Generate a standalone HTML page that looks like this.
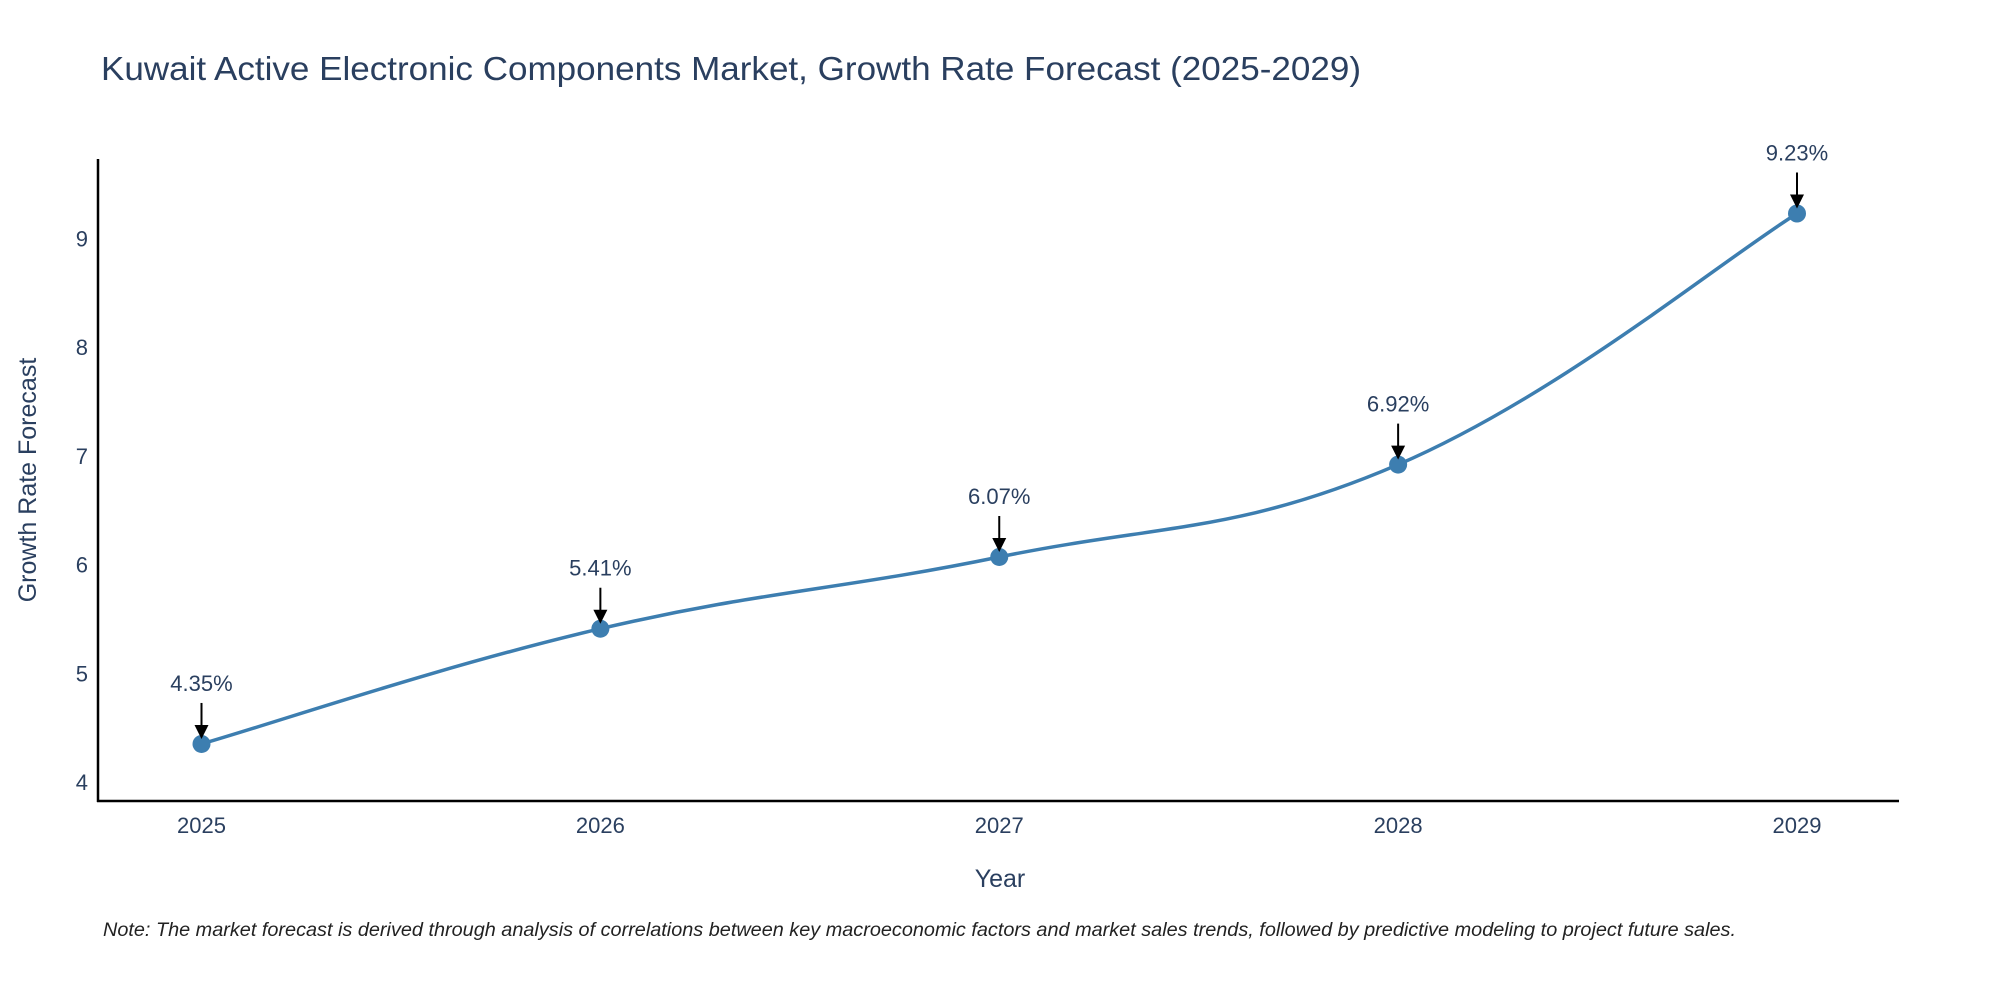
<!DOCTYPE html>
<html><head><meta charset="utf-8"><style>
html,body{margin:0;padding:0;background:#fff;}
svg{display:block;font-family:"Liberation Sans","DejaVu Sans",sans-serif;}
</style></head><body>
<svg id="chart" width="2000" height="1000" viewBox="0 0 2000 1000">
<text x="101" y="80" font-size="33" fill="#2a3f5f" textLength="1260" lengthAdjust="spacingAndGlyphs">Kuwait Active Electronic Components Market, Growth Rate Forecast (2025-2029)</text>
<g id="axes"></g>
<g id="series"></g>
<g id="annos"></g>
<text x="0" y="0" transform="translate(36,480) rotate(-90)" text-anchor="middle" font-size="25" fill="#2a3f5f">Growth Rate Forecast</text>
<text x="1000" y="887" text-anchor="middle" font-size="25" fill="#2a3f5f">Year</text>
<text x="103" y="936" font-size="19" font-style="italic" fill="#222" textLength="1633" lengthAdjust="spacingAndGlyphs">Note: The market forecast is derived through analysis of correlations between key macroeconomic factors and market sales trends, followed by predictive modeling to project future sales.</text>
</svg>
<script>
const categories = ["2025","2026","2027","2028","2029"];
const values = [4.35, 5.41, 6.07, 6.92, 9.23];
const labels = ["4.35%","5.41%","6.07%","6.92%","9.23%"];
const yTicks = [4,5,6,7,8,9];

const NS="http://www.w3.org/2000/svg";
function mk(tag,attrs,parent){const e=document.createElementNS(NS,tag);for(const k in attrs)e.setAttribute(k,attrs[k]);parent.appendChild(e);return e;}
const x0=201.5, x1=1797;
const xScale=i=>x0+(x1-x0)*i/(categories.length-1);
const yScale=v=>782-(v-4)*108.7;
const axes=document.getElementById('axes'), series=document.getElementById('series'), annos=document.getElementById('annos');

const yl=mk('line',{x1:98,y1:159,x2:98,y2:802,stroke:'#000','stroke-width':2.5},axes);


const xl=mk('line',{x1:97,y1:801,x2:1899,y2:801,stroke:'#000','stroke-width':2.5},axes);



yTicks.forEach(t=>{
  const tx=mk('text',{x:88,y:yScale(t)+8,'text-anchor':'end','font-size':22,fill:'#2a3f5f'},axes);
  tx.textContent=t;
  
  
});
categories.forEach((c,i)=>{
  const tx=mk('text',{x:xScale(i),y:833,'text-anchor':'middle','font-size':22,fill:'#2a3f5f'},axes);
  tx.textContent=c;
  
  
});

const pts=values.map((v,i)=>[xScale(i),yScale(v)]);
let d=`M${pts[0][0]},${pts[0][1]}`;
const t=0.2;
for(let i=0;i<pts.length-1;i++){
  const p0=pts[Math.max(0,i-1)],p1=pts[i],p2=pts[i+1],p3=pts[Math.min(pts.length-1,i+2)];
  const c1=[p1[0]+(p2[0]-p0[0])*t,p1[1]+(p2[1]-p0[1])*t];
  const c2=[p2[0]-(p3[0]-p1[0])*t,p2[1]-(p3[1]-p1[1])*t];
  d+=` C${c1[0]},${c1[1]} ${c2[0]},${c2[1]} ${p2[0]},${p2[1]}`;
}
const line=mk('path',{d:d,fill:'none',stroke:'#3d7eb0','stroke-width':3.5},series);



pts.forEach((p,i)=>{
  const c=mk('circle',{cx:p[0],cy:p[1],r:9,fill:'#3d7eb0'},series);
  
  
  const a=mk('line',{x1:p[0],y1:p[1]-41,x2:p[0],y2:p[1]-18,stroke:'#000','stroke-width':2},annos);
  
  
  const h=mk('path',{d:`M${p[0]-7},${p[1]-19} L${p[0]+7},${p[1]-19} L${p[0]},${p[1]-5} Z`,fill:'#000'},annos);
  
  
  const tx=mk('text',{x:p[0],y:p[1]-53,'text-anchor':'middle','font-size':22,fill:'#2a3f5f'},annos);
  tx.textContent=labels[i];
  
  
});
</script>
</body></html>
